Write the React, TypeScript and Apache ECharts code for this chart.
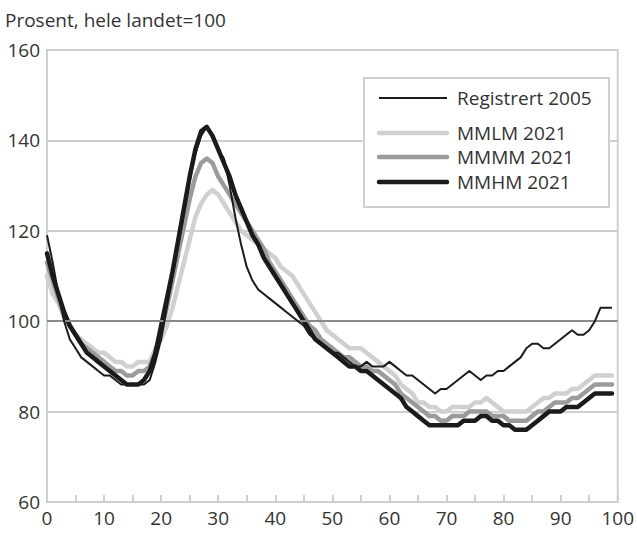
import React, { useEffect, useRef } from "react";
import * as echarts from "echarts";

const ages: number[] = Array.from({ length: 100 }, (_, i) => i);

const registrert2005: number[] = [
  119, 113, 106, 100, 96, 94, 92, 91, 90, 89,
  88, 88, 87, 86, 86, 86, 86, 86, 87, 91,
  96, 103, 110, 117, 124, 131, 137, 141, 143, 141,
  138, 136, 130, 123, 117, 112, 109, 107, 106, 105,
  104, 103, 102, 101, 100, 99, 97, 96, 95, 94,
  93, 93, 92, 91, 90, 90, 91, 90, 90, 90,
  91, 90, 89, 88, 88, 87, 86, 85, 84, 85,
  85, 86, 87, 88, 89, 88, 87, 88, 88, 89,
  89, 90, 91, 92, 94, 95, 95, 94, 94, 95,
  96, 97, 98, 97, 97, 98, 100, 103, 103, 103,
];

const mmlm2021: number[] = [
  110, 106, 104, 101, 99, 97, 96, 95, 94, 93,
  93, 92, 91, 91, 90, 90, 91, 91, 91, 94,
  96, 99, 103, 108, 113, 118, 123, 126, 128, 129,
  128, 126, 124, 122, 120, 119, 118, 117, 116, 115,
  114, 112, 111, 110, 108, 106, 104, 102, 100, 98,
  97, 96, 95, 94, 94, 94, 93, 92, 91, 90,
  89, 88, 86, 85, 84, 82, 82, 81, 81, 80,
  80, 81, 81, 81, 81, 82, 82, 83, 82, 81,
  80, 80, 80, 80, 80, 81, 82, 83, 83, 84,
  84, 84, 85, 85, 86, 87, 88, 88, 88, 88,
];

const mmmm2021: number[] = [
  113, 109, 105, 101, 99, 97, 95, 94, 93, 92,
  91, 90, 89, 89, 88, 88, 89, 89, 90, 93,
  98, 103, 109, 115, 121, 127, 132, 135, 136, 135,
  132, 130, 128, 126, 124, 122, 120, 118, 116, 113,
  111, 109, 107, 105, 103, 101, 99, 98, 96, 95,
  94, 93, 92, 92, 91, 90, 90, 89, 89, 88,
  87, 86, 84, 83, 82, 81, 80, 79, 79, 78,
  78, 79, 79, 79, 80, 80, 80, 80, 79, 79,
  79, 78, 78, 78, 78, 79, 80, 80, 81, 82,
  82, 82, 83, 83, 84, 85, 86, 86, 86, 86,
];

const mmhm2021: number[] = [
  115, 110, 106, 102, 99, 97, 95, 93, 92, 91,
  90, 89, 88, 87, 86, 86, 86, 87, 89, 93,
  99, 105, 111, 118, 125, 132, 138, 142, 143, 141,
  138, 135, 132, 128, 125, 122, 119, 117, 114, 112,
  110, 108, 106, 104, 102, 100, 98, 96, 95, 94,
  93, 92, 91, 90, 90, 89, 89, 88, 87, 86,
  85, 84, 83, 81, 80, 79, 78, 77, 77, 77,
  77, 77, 77, 78, 78, 78, 79, 79, 78, 78,
  77, 77, 76, 76, 76, 77, 78, 79, 80, 80,
  80, 81, 81, 81, 82, 83, 84, 84, 84, 84,
];

const seriesNames: string[] = ["Registrert 2005", "MMLM 2021", "MMMM 2021", "MMHM 2021"];
const xTicks: number[] = [0, 10, 20, 30, 40, 50, 60, 70, 80, 90, 100];
const yTicks: number[] = [60, 80, 100, 120, 140, 160];
const titleText = "Prosent, hele landet=100";

const FONT = "'Open Sans', 'Noto Sans', sans-serif";
const TEXT = "#333";
const GRID = "#cfcfcf";
const colors: Record<string, string> = {
  "Registrert 2005": "#1c1a1a",
  "MMLM 2021": "#d0d0d0",
  "MMMM 2021": "#9b9b9b",
  "MMHM 2021": "#1c1a1a",
};
const widths: Record<string, number> = {
  "Registrert 2005": 2,
  "MMLM 2021": 4.5,
  "MMMM 2021": 4.5,
  "MMHM 2021": 4.5,
};
const legendRowsY: number[] = [98, 133, 157, 182];

export default function App() {
  const ref = useRef<HTMLDivElement>(null);
  useEffect(() => {
    if (!ref.current) return;
    const chart = echarts.init(ref.current, null, { renderer: "svg" });
    const toPairs = (arr: number[]) => arr.map((v, i) => [ages[i], v]);
    const labelStyle = { color: TEXT, fontSize: 19, fontFamily: FONT };

    const legendGraphics: any[] = [
      {
        type: "rect",
        left: 363,
        top: 77,
        shape: { width: 245, height: 129 },
        style: { fill: "#fff", stroke: GRID, lineWidth: 2 },
        z: 10,
      },
    ];
    seriesNames.forEach((name, i) => {
      const y = legendRowsY[i];
      legendGraphics.push({
        type: "line",
        shape: { x1: 379, y1: y, x2: 447, y2: y },
        style: { stroke: colors[name], lineWidth: widths[name], lineCap: name === seriesNames[0] ? "butt" : "round" },
        z: 11,
      });
      legendGraphics.push({
        type: "text",
        x: 457,
        y: y,
        style: {
          text: name,
          fill: TEXT,
          font: `19px ${FONT}`,
          textVerticalAlign: "middle",
          verticalAlign: "middle",
        },
        z: 11,
      });
    });

    chart.setOption({
      animation: false,
      backgroundColor: "#fff",
      title: {
        text: titleText,
        left: 5,
        top: 10,
        padding: 0,
        textStyle: { color: TEXT, fontSize: 19, fontWeight: "normal", fontFamily: FONT },
      },
      grid: {
        left: 47,
        right: 19,
        top: 50,
        bottom: 32,
        show: true,
        borderColor: GRID,
        borderWidth: 2,
        backgroundColor: "transparent",
      },
      xAxis: {
        type: "value",
        min: 0,
        max: 100,
        interval: 5,
        axisLine: { show: true, lineStyle: { color: GRID, width: 2 } },
        axisTick: { show: true, inside: true, length: 7, lineStyle: { color: GRID, width: 2 } },
        splitLine: { show: false },
        axisLabel: {
          ...labelStyle,
          margin: 6,
          formatter: (v: number) => (xTicks.includes(v) ? String(v) : ""),
        },
      },
      yAxis: {
        type: "value",
        min: yTicks[0],
        max: yTicks[yTicks.length - 1],
        interval: 20,
        axisLine: { show: false },
        axisTick: { show: false },
        splitLine: { show: true, lineStyle: { color: GRID, width: 2 } },
        axisLabel: { ...labelStyle, margin: 7 },
      },
      graphic: legendGraphics,
      series: [
        {
          name: seriesNames[1],
          type: "line",
          data: toPairs(mmlm2021),
          symbol: "none",
          lineStyle: { color: colors[seriesNames[1]], width: 4.5, cap: "round", join: "round" },
          z: 2,
          markLine: {
            silent: true,
            symbol: "none",
            label: { show: false },
            lineStyle: { color: "#8a8a8a", width: 2, type: "solid" },
            data: [{ yAxis: 100 }],
          },
        },
        {
          name: seriesNames[2],
          type: "line",
          data: toPairs(mmmm2021),
          symbol: "none",
          lineStyle: { color: colors[seriesNames[2]], width: 4.5, cap: "round", join: "round" },
          z: 3,
        },
        {
          name: seriesNames[3],
          type: "line",
          data: toPairs(mmhm2021),
          symbol: "none",
          lineStyle: { color: colors[seriesNames[3]], width: 4.5, cap: "round", join: "round" },
          z: 4,
        },
        {
          name: seriesNames[0],
          type: "line",
          data: toPairs(registrert2005),
          symbol: "none",
          lineStyle: { color: colors[seriesNames[0]], width: 2, join: "round" },
          z: 5,
        },
      ],
    });
    return () => chart.dispose();
  }, []);
  return <div ref={ref} style={{ width: 637, height: 534, position: "absolute", left: 0, top: 0 }} />;
}
